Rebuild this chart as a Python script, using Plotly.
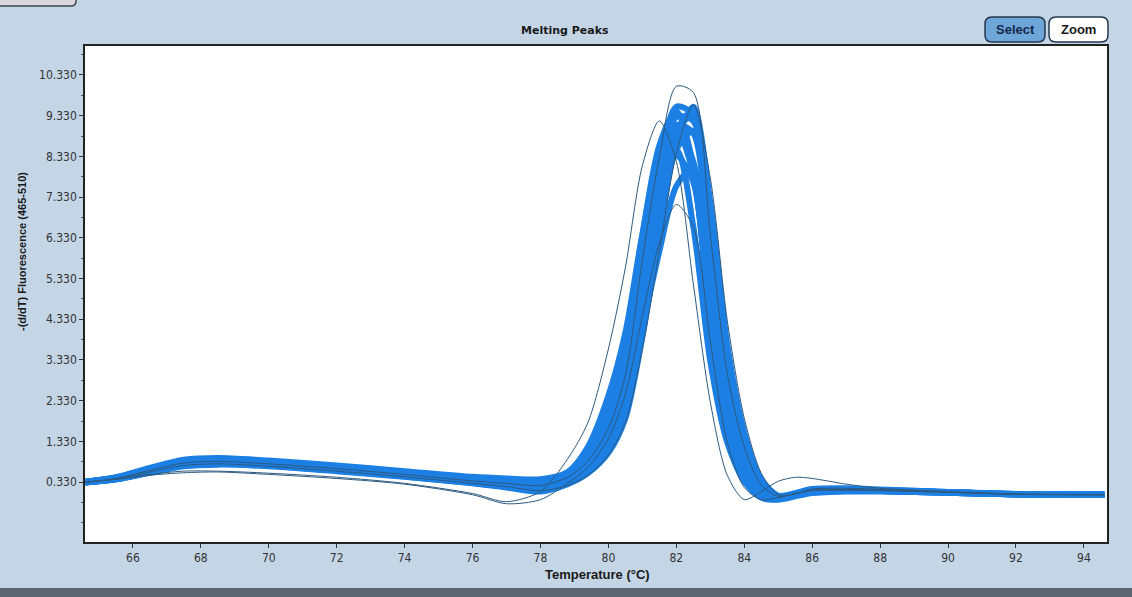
import plotly.graph_objects as go

# ---------------- data ----------------
temps = [64.6, 65.5, 66.5, 67.5, 68.5, 70, 72, 74, 76, 77, 78, 78.8, 79.4, 80, 80.5, 81, 81.5,
         82, 82.5, 83, 83.5, 84, 84.5, 85, 85.5, 86, 87, 88, 90, 92, 94.6]

curve_a = [0.33, 0.42, 0.62, 0.80, 0.84, 0.78, 0.66, 0.52, 0.36, 0.28, 0.20, 0.40, 0.80, 1.60, 2.85, 5.50, 7.60,
           9.10, 8.90, 5.30, 2.40, 0.94, 0.15, -0.05, 0.02, 0.12, 0.14, 0.12, 0.08, 0.03, 0.02]
curve_b = [0.33, 0.44, 0.66, 0.86, 0.90, 0.84, 0.72, 0.58, 0.42, 0.36, 0.30, 0.50, 1.05, 2.10, 3.70, 6.40, 8.60,
           9.45, 8.10, 4.20, 1.70, 0.50, 0.00, -0.08, 0.00, 0.08, 0.12, 0.11, 0.07, 0.03, 0.02]
curve_c = [0.32, 0.40, 0.58, 0.76, 0.80, 0.74, 0.62, 0.48, 0.32, 0.22, 0.14, 0.32, 0.62, 1.25, 2.20, 4.50, 6.70,
           8.50, 8.95, 6.20, 3.10, 1.30, 0.30, -0.02, 0.05, 0.15, 0.16, 0.14, 0.09, 0.04, 0.02]
curve_d = [0.34, 0.45, 0.68, 0.88, 0.92, 0.86, 0.74, 0.60, 0.46, 0.42, 0.40, 0.58, 1.20, 2.45, 4.00, 6.40, 8.20,
           8.50, 6.60, 3.30, 1.30, 0.35, -0.05, -0.10, -0.02, 0.06, 0.10, 0.10, 0.07, 0.03, 0.02]
curve_e = [0.32, 0.40, 0.56, 0.72, 0.76, 0.72, 0.60, 0.46, 0.30, 0.20, 0.10, 0.28, 0.55, 1.05, 1.90, 3.90, 6.40,
           8.70, 9.55, 7.20, 3.70, 1.55, 0.40, 0.00, 0.06, 0.16, 0.18, 0.15, 0.09, 0.04, 0.03]
curve_f = [0.33, 0.43, 0.64, 0.83, 0.87, 0.80, 0.68, 0.54, 0.38, 0.30, 0.22, 0.42, 0.85, 1.70, 3.00, 5.80, 8.10,
           9.55, 9.35, 5.70, 2.50, 0.95, 0.15, -0.06, 0.02, 0.12, 0.14, 0.12, 0.08, 0.03, 0.02]
curve_g = [0.34, 0.44, 0.65, 0.84, 0.88, 0.82, 0.70, 0.56, 0.40, 0.34, 0.30, 0.45, 0.90, 1.75, 3.10, 5.40, 7.30,
           8.35, 7.70, 4.40, 1.90, 0.70, 0.08, -0.06, 0.01, 0.10, 0.13, 0.12, 0.08, 0.03, 0.02]
curve_h = [0.33, 0.41, 0.60, 0.78, 0.82, 0.76, 0.64, 0.50, 0.34, 0.25, 0.17, 0.35, 0.70, 1.40, 2.50, 5.00, 7.20,
           9.00, 9.30, 5.90, 2.80, 1.10, 0.22, -0.04, 0.03, 0.13, 0.15, 0.13, 0.08, 0.03, 0.02]
curve_i = [0.33, 0.43, 0.63, 0.82, 0.86, 0.80, 0.68, 0.55, 0.40, 0.33, 0.27, 0.46, 0.92, 1.85, 3.25, 5.90, 7.90,
           8.95, 8.20, 4.70, 2.00, 0.75, 0.08, -0.07, 0.01, 0.09, 0.12, 0.11, 0.07, 0.03, 0.02]
curve_j = [0.32, 0.40, 0.57, 0.74, 0.78, 0.73, 0.61, 0.47, 0.31, 0.21, 0.12, 0.30, 0.60, 1.15, 2.05, 4.10, 6.00,
           7.60, 8.05, 5.80, 2.95, 1.20, 0.28, -0.03, 0.04, 0.14, 0.16, 0.13, 0.08, 0.04, 0.03]
curve_k = [0.33, 0.42, 0.61, 0.79, 0.83, 0.77, 0.65, 0.51, 0.35, 0.27, 0.19, 0.38, 0.76, 1.50, 2.70, 5.30, 7.70,
           9.30, 9.20, 5.60, 2.60, 1.00, 0.18, -0.05, 0.02, 0.12, 0.14, 0.12, 0.08, 0.03, 0.02]
curve_l = [0.34, 0.44, 0.66, 0.85, 0.89, 0.83, 0.71, 0.57, 0.41, 0.35, 0.28, 0.48, 1.00, 1.95, 3.45, 6.10, 8.20,
           9.00, 7.90, 4.30, 1.80, 0.60, 0.05, -0.07, 0.00, 0.09, 0.12, 0.11, 0.07, 0.03, 0.02]

# outlying individual traces (thin outlines)
outlier_early = [0.33, 0.40, 0.52, 0.60, 0.60, 0.55, 0.45, 0.30, 0.05, -0.15, 0.10, 0.90, 1.80, 3.60, 5.60, 8.10, 9.20,
                 8.20, 5.20, 2.30, 0.50, -0.10, 0.10, 0.35, 0.45, 0.42, 0.28, 0.18, 0.10, 0.04, 0.02]
outlier_low = [0.33, 0.40, 0.50, 0.56, 0.58, 0.52, 0.42, 0.28, 0.02, -0.20, -0.10, 0.30, 0.70, 1.40, 2.50, 4.40, 6.20,
               7.15, 6.60, 3.80, 1.30, 0.20, -0.10, -0.05, 0.05, 0.12, 0.13, 0.12, 0.08, 0.03, 0.02]
outlier_high = [0.33, 0.42, 0.62, 0.80, 0.84, 0.78, 0.66, 0.52, 0.36, 0.30, 0.25, 0.45, 0.85, 1.65, 2.95, 5.80, 8.30,
                10.05, 9.90, 6.40, 3.00, 1.20, 0.25, -0.02, 0.04, 0.14, 0.15, 0.13, 0.08, 0.03, 0.02]
outlier_late = [0.33, 0.41, 0.58, 0.74, 0.78, 0.72, 0.60, 0.46, 0.30, 0.22, 0.12, 0.25, 0.50, 1.00, 1.80, 3.60, 6.00,
                8.40, 9.60, 7.80, 4.30, 1.90, 0.55, 0.02, 0.05, 0.16, 0.18, 0.15, 0.09, 0.04, 0.03]

x_ticks = [66, 68, 70, 72, 74, 76, 78, 80, 82, 84, 86, 88, 90, 92, 94]
y_ticks = [0.33, 1.33, 2.33, 3.33, 4.33, 5.33, 6.33, 7.33, 8.33, 9.33, 10.33]
y_tick_text = ["0.330", "1.330", "2.330", "3.330", "4.330", "5.330", "6.330", "7.330", "8.330", "9.330", "10.330"]

band_curves = [curve_a, curve_b, curve_c, curve_d, curve_e, curve_f, curve_g, curve_h, curve_i, curve_j,
               curve_k, curve_l]
outlier_curves = [outlier_early, outlier_low, outlier_high, outlier_late]

# ---------------- styling / layout ----------------
W, H = 1132, 597
L, R, T, B = 85, 1107, 46, 542
BG = "#c4d5e6"
BLUE = "#1b7fe4"
DARK = "#2d5a80"
FONT = "Liberation Sans Narrow, DejaVu Sans Condensed, Arial Narrow, sans-serif"


def px(x):
    return (x - L) / (R - L)


def py(y):
    return (B - y) / (B - T)


def rounded(x0, y0, x1, y1, r):
    X0, X1 = px(x0), px(x1)
    Y0, Y1 = py(y1), py(y0)
    rx, ry = r / (R - L), r / (B - T)
    return (f"M {X0+rx},{Y0} L {X1-rx},{Y0} Q {X1},{Y0} {X1},{Y0+ry} L {X1},{Y1-ry} "
            f"Q {X1},{Y1} {X1-rx},{Y1} L {X0+rx},{Y1} Q {X0},{Y1} {X0},{Y1-ry} "
            f"L {X0},{Y0+ry} Q {X0},{Y0} {X0+rx},{Y0} Z")


fig = go.Figure()

for c in band_curves:
    fig.add_trace(go.Scatter(x=temps, y=c, mode="lines",
                             line=dict(color=BLUE, width=6, shape="spline", smoothing=0.8),
                             hoverinfo="skip"))
for c in outlier_curves:
    fig.add_trace(go.Scatter(x=temps, y=c, mode="lines",
                             line=dict(color=DARK, width=1, shape="spline", smoothing=0.8),
                             hoverinfo="skip"))

shapes = [
    dict(type="path", xref="paper", yref="paper", path=rounded(985, 17, 1045, 42, 7),
         fillcolor="#6ea6da", line=dict(color="#26384e", width=1.5), layer="above"),
    dict(type="path", xref="paper", yref="paper", path=rounded(1049, 17, 1108, 42, 7),
         fillcolor="#ffffff", line=dict(color="#26384e", width=1.5), layer="above"),
    dict(type="path", xref="paper", yref="paper", path=rounded(-4, -12, 76, 6, 5),
         fillcolor="#ddd8e0", line=dict(color="#404850", width=1.5), layer="above"),
    dict(type="rect", xref="paper", yref="paper", x0=px(0), x1=px(W), y0=py(588), y1=py(600),
         fillcolor="#5a6570", line=dict(width=0), layer="above"),
]


def ann(text, x, y, size, family="Liberation Sans", color="#1a1a1a", angle=0):
    return dict(text=text, x=px(x), y=py(y), xref="paper", yref="paper", xanchor="center",
                yanchor="middle", showarrow=False, textangle=angle,
                font=dict(family=family, size=size, color=color))


annotations = [
    ann("<b>Melting Peaks</b>", 565, 31, 11, family="DejaVu Sans"),
    ann("<b>Temperature (°C)</b>", 597, 574, 13),
    ann("<b>-(d/dT) Fluorescence (465-510)</b>", 22, 252, 11, angle=-90),
    ann("<b>Select</b>", 1015, 29.5, 13, color="#14284a"),
    ann("<b>Zoom</b>", 1078.5, 29.5, 13),
]

fig.update_layout(
    width=W, height=H,
    margin=dict(l=L, r=W - R, t=T, b=H - B),
    paper_bgcolor=BG, plot_bgcolor="#ffffff",
    showlegend=False,
    shapes=shapes, annotations=annotations,
    xaxis=dict(range=[64.59, 94.68], tickvals=x_ticks, ticks="outside", ticklen=4,
               tickcolor="#333", showgrid=False, zeroline=False, showline=True, mirror=True,
               linecolor="#222", linewidth=1.5,
               tickfont=dict(family=FONT, size=12, color="#333")),
    yaxis=dict(range=[-1.14, 11.04], tickvals=y_ticks, ticktext=y_tick_text, ticks="outside",
               ticklen=4, tickcolor="#333", showgrid=False, zeroline=False, showline=True,
               mirror=True, linecolor="#222", linewidth=1.5,
               minor=dict(tickmode="linear", tick0=0.33, dtick=0.5, ticks="outside", ticklen=2,
                          tickcolor="#555"),
               tickfont=dict(family=FONT, size=12, color="#333")),
)

fig.write_html("out.html", config={"displayModeBar": False},
               post_script="document.body.style.margin='0';document.body.style.overflow='hidden';")
